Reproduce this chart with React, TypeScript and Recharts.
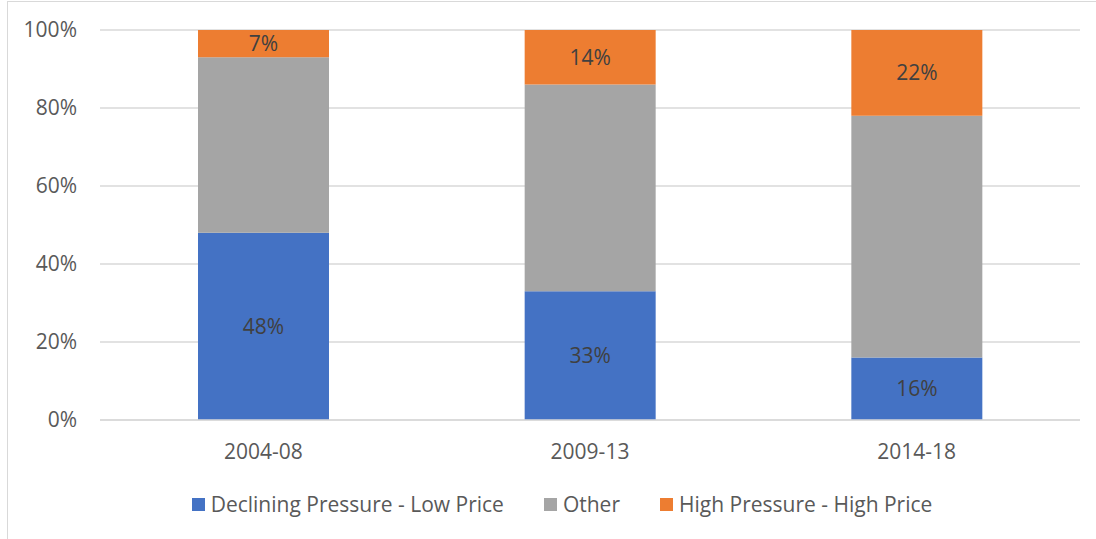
import React from "react";
import { BarChart, Bar, XAxis, YAxis, CartesianGrid, Legend, LabelList } from "recharts";

const categories = ["2004-08", "2009-13", "2014-18"];
const declining = [48, 33, 16];
const other = [45, 53, 62];
const high = [7, 14, 22];
const yTicks = [0, 20, 40, 60, 80, 100];

const seriesNames = ["Declining Pressure - Low Price", "Other", "High Pressure - High Price"];
const seriesColors = ["#4472C4", "#A5A5A5", "#ED7D31"];

const data = categories.map((c, i) => ({
  name: c,
  declining: declining[i],
  other: other[i],
  high: high[i],
}));

const FONT = "'Open Sans', 'Noto Sans', sans-serif";
const FS = 21;

const CustomLegend = () => (
  <div
    style={{
      display: "flex",
      justifyContent: "center",
      alignItems: "center",
      height: 24,
      fontFamily: FONT,
      fontSize: FS,
      color: "#595959",
      paddingLeft: 44,
    }}
  >
    {seriesNames.map((n, i) => (
      <div key={n} style={{ display: "flex", alignItems: "center", marginRight: i < 2 ? 40 : 0 }}>
        <div style={{ width: 13, height: 13, background: seriesColors[i], marginRight: 6 }} />
        <span>{n}</span>
      </div>
    ))}
  </div>
);

export default function App() {
  return (
    <div style={{ position: "absolute", left: 0, top: 0, width: 1096, height: 539, overflow: "hidden", background: "#fff" }}>
      <div
        style={{
          position: "absolute",
          left: 7,
          top: 1,
          width: 1200,
          height: 600,
          border: "1px solid #d9d9d9",
          boxSizing: "border-box",
        }}
      />
      <div style={{ position: "absolute", left: 0, top: 0 }}>
        <BarChart
          width={1096}
          height={539}
          data={data}
          margin={{ top: 30, right: 16, left: 0, bottom: 23 }}
          barCategoryGap="30%"
        >
          <CartesianGrid vertical={false} stroke="#d9d9d9" strokeWidth={1.5} />
          <XAxis
            dataKey="name"
            axisLine={{ stroke: "#d9d9d9", strokeWidth: 1.5 }}
            tickLine={false}
            tickSize={0}
            tickMargin={24}
            height={72}
            tick={{ fill: "#595959", fontSize: FS, fontFamily: FONT }}
          />
          <YAxis
            width={100}
            domain={[0, 100]}
            ticks={yTicks}
            tickFormatter={(v: number) => `${v}%`}
            axisLine={false}
            tickLine={false}
            tickSize={0}
            tickMargin={23}
            tick={{ fill: "#595959", fontSize: FS, fontFamily: FONT }}
          />
          <Legend verticalAlign="bottom" content={<CustomLegend />} />
          <Bar dataKey="declining" name={seriesNames[0]} stackId="a" fill={seriesColors[0]} isAnimationActive={false}>
            <LabelList
              dataKey="declining"
              position="center"
              formatter={(v: number) => `${v}%`}
              style={{ fill: "#404040", fontSize: FS, fontFamily: FONT }}
            />
          </Bar>
          <Bar dataKey="other" name={seriesNames[1]} stackId="a" fill={seriesColors[1]} isAnimationActive={false} />
          <Bar dataKey="high" name={seriesNames[2]} stackId="a" fill={seriesColors[2]} isAnimationActive={false}>
            <LabelList
              dataKey="high"
              position="center"
              formatter={(v: number) => `${v}%`}
              style={{ fill: "#404040", fontSize: FS, fontFamily: FONT }}
            />
          </Bar>
        </BarChart>
      </div>
    </div>
  );
}
